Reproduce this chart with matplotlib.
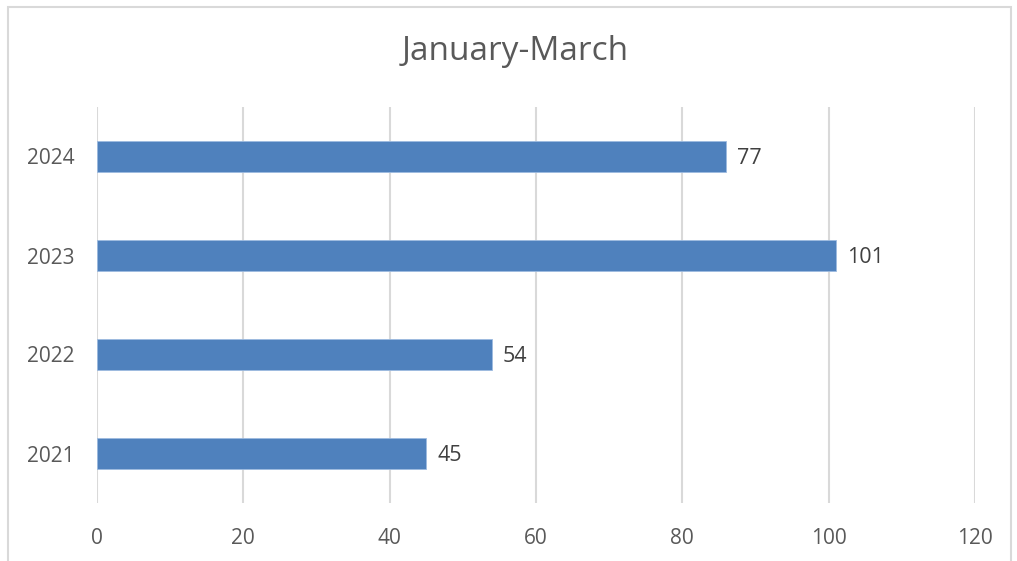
import matplotlib
matplotlib.use("Agg")
import matplotlib.pyplot as plt
from matplotlib.patches import Rectangle

years = ["2021", "2022", "2023", "2024"]
bar_values = [45, 54, 101, 86]
value_labels = ["45", "54", "101", "77"]
x_ticks = [0, 20, 40, 60, 80, 100, 120]

plt.rcParams['font.family'] = ['Open Sans', 'DejaVu Sans']

fig = plt.figure(figsize=(10.17, 5.61), dpi=100)
ax = fig.add_axes([97 / 1017, 58 / 561, 878 / 1017, 396 / 561])

# outer chart border
fig.patches.append(Rectangle((8 / 1017, -0.05), 1003 / 1017, 1 - 7 / 561 + 0.05,
                             transform=fig.transFigure, fill=False,
                             edgecolor="#d9d9d9", linewidth=1.5))

y = range(len(years))
ax.barh(y, bar_values, height=0.31, color="#4f81bd", edgecolor="#9dbbe0", linewidth=0.6, zorder=3)
for i, lab in enumerate(value_labels):
    ax.text(bar_values[i] + 1.5, i - 0.02, lab, va="center", ha="left", fontsize=15.5, color="#404040")

ax.set_xlim(0, 120)
ax.set_ylim(-0.5, 3.5)
ax.set_xticks(x_ticks)
ax.set_yticks(list(y))
ax.set_yticklabels(years)
ax.xaxis.grid(True, color="#d9d9d9", linewidth=1.5, zorder=0)
ax.tick_params(axis="both", length=0, labelsize=15, labelcolor="#595959")
ax.tick_params(axis="x", pad=18)
ax.tick_params(axis="y", pad=16)
for s in ax.spines.values():
    s.set_visible(False)

fig.text(515 / 1017, 1 - 51 / 561, "January-March", ha="center", va="center", fontsize=24, color="#595959")

fig.savefig("out.png", dpi=100)
